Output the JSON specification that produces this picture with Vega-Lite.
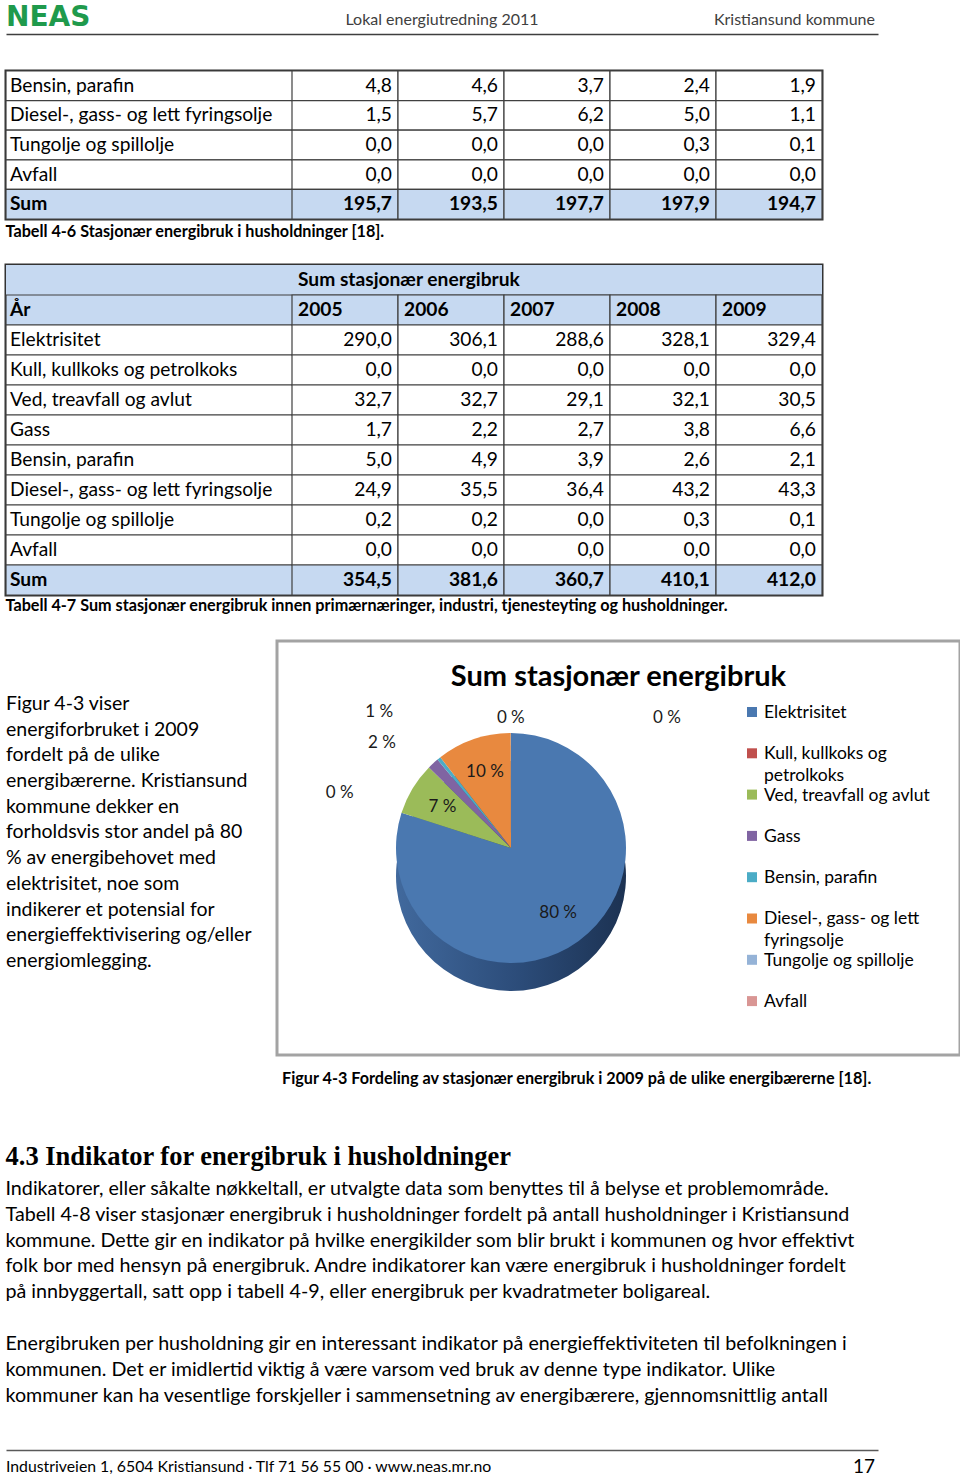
{
 "$schema": "https://vega.github.io/schema/vega-lite/v6.json",
 "background": "white",
 "padding": {"left": 3, "top": 0, "right": 0, "bottom": 0},
 "bounds": "flush",
 "spacing": 0,
 "config": {
  "view": {"stroke": null},
  "font": "Lato",
  "text": {"fill": "#000000"},
  "locale": {"number": {"decimal": ",", "thousands": " ", "grouping": [3], "currency": ["", " kr"]}}
 },
 "datasets": {
  "t46": [
   {"post": "Bensin, parafin", "aar": "2005", "verdi": 4.8}, {"post": "Bensin, parafin", "aar": "2006", "verdi": 4.6}, {"post": "Bensin, parafin", "aar": "2007", "verdi": 3.7}, {"post": "Bensin, parafin", "aar": "2008", "verdi": 2.4}, {"post": "Bensin, parafin", "aar": "2009", "verdi": 1.9},
   {"post": "Diesel-, gass- og lett fyringsolje", "aar": "2005", "verdi": 1.5}, {"post": "Diesel-, gass- og lett fyringsolje", "aar": "2006", "verdi": 5.7}, {"post": "Diesel-, gass- og lett fyringsolje", "aar": "2007", "verdi": 6.2}, {"post": "Diesel-, gass- og lett fyringsolje", "aar": "2008", "verdi": 5.0}, {"post": "Diesel-, gass- og lett fyringsolje", "aar": "2009", "verdi": 1.1},
   {"post": "Tungolje og spillolje", "aar": "2005", "verdi": 0.0}, {"post": "Tungolje og spillolje", "aar": "2006", "verdi": 0.0}, {"post": "Tungolje og spillolje", "aar": "2007", "verdi": 0.0}, {"post": "Tungolje og spillolje", "aar": "2008", "verdi": 0.3}, {"post": "Tungolje og spillolje", "aar": "2009", "verdi": 0.1},
   {"post": "Avfall", "aar": "2005", "verdi": 0.0}, {"post": "Avfall", "aar": "2006", "verdi": 0.0}, {"post": "Avfall", "aar": "2007", "verdi": 0.0}, {"post": "Avfall", "aar": "2008", "verdi": 0.0}, {"post": "Avfall", "aar": "2009", "verdi": 0.0},
   {"post": "Sum", "aar": "2005", "verdi": 195.7}, {"post": "Sum", "aar": "2006", "verdi": 193.5}, {"post": "Sum", "aar": "2007", "verdi": 197.7}, {"post": "Sum", "aar": "2008", "verdi": 197.9}, {"post": "Sum", "aar": "2009", "verdi": 194.7}
  ],
  "t47": [
   {"post": "Elektrisitet", "aar": "2005", "verdi": 290.0}, {"post": "Elektrisitet", "aar": "2006", "verdi": 306.1}, {"post": "Elektrisitet", "aar": "2007", "verdi": 288.6}, {"post": "Elektrisitet", "aar": "2008", "verdi": 328.1}, {"post": "Elektrisitet", "aar": "2009", "verdi": 329.4},
   {"post": "Kull, kullkoks og petrolkoks", "aar": "2005", "verdi": 0.0}, {"post": "Kull, kullkoks og petrolkoks", "aar": "2006", "verdi": 0.0}, {"post": "Kull, kullkoks og petrolkoks", "aar": "2007", "verdi": 0.0}, {"post": "Kull, kullkoks og petrolkoks", "aar": "2008", "verdi": 0.0}, {"post": "Kull, kullkoks og petrolkoks", "aar": "2009", "verdi": 0.0},
   {"post": "Ved, treavfall og avlut", "aar": "2005", "verdi": 32.7}, {"post": "Ved, treavfall og avlut", "aar": "2006", "verdi": 32.7}, {"post": "Ved, treavfall og avlut", "aar": "2007", "verdi": 29.1}, {"post": "Ved, treavfall og avlut", "aar": "2008", "verdi": 32.1}, {"post": "Ved, treavfall og avlut", "aar": "2009", "verdi": 30.5},
   {"post": "Gass", "aar": "2005", "verdi": 1.7}, {"post": "Gass", "aar": "2006", "verdi": 2.2}, {"post": "Gass", "aar": "2007", "verdi": 2.7}, {"post": "Gass", "aar": "2008", "verdi": 3.8}, {"post": "Gass", "aar": "2009", "verdi": 6.6},
   {"post": "Bensin, parafin", "aar": "2005", "verdi": 5.0}, {"post": "Bensin, parafin", "aar": "2006", "verdi": 4.9}, {"post": "Bensin, parafin", "aar": "2007", "verdi": 3.9}, {"post": "Bensin, parafin", "aar": "2008", "verdi": 2.6}, {"post": "Bensin, parafin", "aar": "2009", "verdi": 2.1},
   {"post": "Diesel-, gass- og lett fyringsolje", "aar": "2005", "verdi": 24.9}, {"post": "Diesel-, gass- og lett fyringsolje", "aar": "2006", "verdi": 35.5}, {"post": "Diesel-, gass- og lett fyringsolje", "aar": "2007", "verdi": 36.4}, {"post": "Diesel-, gass- og lett fyringsolje", "aar": "2008", "verdi": 43.2}, {"post": "Diesel-, gass- og lett fyringsolje", "aar": "2009", "verdi": 43.3},
   {"post": "Tungolje og spillolje", "aar": "2005", "verdi": 0.2}, {"post": "Tungolje og spillolje", "aar": "2006", "verdi": 0.2}, {"post": "Tungolje og spillolje", "aar": "2007", "verdi": 0.0}, {"post": "Tungolje og spillolje", "aar": "2008", "verdi": 0.3}, {"post": "Tungolje og spillolje", "aar": "2009", "verdi": 0.1},
   {"post": "Avfall", "aar": "2005", "verdi": 0.0}, {"post": "Avfall", "aar": "2006", "verdi": 0.0}, {"post": "Avfall", "aar": "2007", "verdi": 0.0}, {"post": "Avfall", "aar": "2008", "verdi": 0.0}, {"post": "Avfall", "aar": "2009", "verdi": 0.0},
   {"post": "Sum", "aar": "2005", "verdi": 354.5}, {"post": "Sum", "aar": "2006", "verdi": 381.6}, {"post": "Sum", "aar": "2007", "verdi": 360.7}, {"post": "Sum", "aar": "2008", "verdi": 410.1}, {"post": "Sum", "aar": "2009", "verdi": 412.0}
  ],
  "fordeling": [
   {"nr": 1, "navn": "Elektrisitet", "verdi": 329.4, "andel": "80 %", "legendtekst": "Elektrisitet"},
   {"nr": 2, "navn": "Kull, kullkoks og petrolkoks", "verdi": 0.0, "andel": "0 %", "legendtekst": "Kull, kullkoks og\npetrolkoks"},
   {"nr": 3, "navn": "Ved, treavfall og avlut", "verdi": 30.5, "andel": "7 %", "legendtekst": "Ved, treavfall og avlut"},
   {"nr": 4, "navn": "Gass", "verdi": 6.6, "andel": "2 %", "legendtekst": "Gass"},
   {"nr": 5, "navn": "Bensin, parafin", "verdi": 2.1, "andel": "1 %", "legendtekst": "Bensin, parafin"},
   {"nr": 6, "navn": "Diesel-, gass- og lett fyringsolje", "verdi": 43.3, "andel": "10 %", "legendtekst": "Diesel-, gass- og lett\nfyringsolje"},
   {"nr": 7, "navn": "Tungolje og spillolje", "verdi": 0.1, "andel": "0 %", "legendtekst": "Tungolje og spillolje"},
   {"nr": 8, "navn": "Avfall", "verdi": 0.0, "andel": "0 %", "legendtekst": "Avfall"}
  ]
 },
 "vconcat": [
  {
   "width": 872, "height": 34,
   "data": {"values": [{"pos": "v", "tekst": "NEAS"}, {"pos": "m", "tekst": "Lokal energiutredning 2011"}, {"pos": "h", "tekst": "Kristiansund kommune"}]},
   "layer": [
    {"transform": [{"filter": "datum.pos === 'v'"}],
     "mark": {"type": "text", "align": "left", "baseline": "alphabetic", "font": "DejaVu Sans", "fontSize": 28, "fontWeight": "bold", "fill": "#1f9a4c", "dy": 9},
     "encoding": {"x": {"field": "pos", "type": "nominal", "scale": {"type": "point", "domain": ["v", "m", "h"], "padding": 0}, "axis": {"orient": "bottom", "labels": false, "ticks": false, "grid": false, "title": null, "domain": true, "domainColor": "#3f3f3f", "domainWidth": 1.5}}, "text": {"field": "tekst"}}},
    {"transform": [{"filter": "datum.pos === 'm'"}],
     "mark": {"type": "text", "align": "center", "baseline": "middle", "fontSize": 16, "fill": "#404040", "dy": 3},
     "encoding": {"x": {"field": "pos", "type": "nominal", "scale": {"type": "point", "domain": ["v", "m", "h"], "padding": 0}, "axis": {"orient": "bottom", "labels": false, "ticks": false, "grid": false, "title": null, "domain": true, "domainColor": "#3f3f3f", "domainWidth": 1.5}}, "text": {"field": "tekst"}}},
    {"transform": [{"filter": "datum.pos === 'h'"}],
     "mark": {"type": "text", "align": "right", "baseline": "middle", "fontSize": 16, "fill": "#404040", "dx": -3, "dy": 3},
     "encoding": {"x": {"field": "pos", "type": "nominal", "scale": {"type": "point", "domain": ["v", "m", "h"], "padding": 0}, "axis": {"orient": "bottom", "labels": false, "ticks": false, "grid": false, "title": null, "domain": true, "domainColor": "#3f3f3f", "domainWidth": 1.5}}, "text": {"field": "tekst"}}}
   ]
  },
  {"width": 1, "height": 37, "data": {"values": [{"t": ""}]}, "mark": {"type": "text"}, "encoding": {"text": {"field": "t"}}},
  {
   "width": 816, "height": 148,
   "view": {"stroke": "#333333", "strokeWidth": 3},
   "data": {"name": "t46"},
   "resolve": {"scale": {"x": "independent"}},
   "layer": [
    {"transform": [{"filter": "datum.aar === '2005'"}],
     "mark": {"type": "rect", "stroke": "#404040", "strokeWidth": 1.2},
     "encoding": {
      "y": {"field": "post", "type": "nominal", "scale": {"type": "band", "domain": ["Bensin, parafin", "Diesel-, gass- og lett fyringsolje", "Tungolje og spillolje", "Avfall", "Sum"], "paddingInner": 0, "paddingOuter": 0}, "axis": null},
      "fill": {"condition": {"test": "datum.post === 'Sum'", "value": "#c6d9f1"}, "value": "#ffffff"}}},
    {"mark": {"type": "rect", "stroke": "#404040", "strokeWidth": 1.2},
     "encoding": {
      "x": {"field": "aar", "type": "ordinal", "scale": {"type": "band", "domain": ["_", "2005", "2006", "2007", "2008", "2009"], "paddingInner": 0, "paddingOuter": 0.849057, "align": 1}, "axis": null},
      "y": {"field": "post", "type": "nominal", "scale": {"type": "band", "domain": ["Bensin, parafin", "Diesel-, gass- og lett fyringsolje", "Tungolje og spillolje", "Avfall", "Sum"], "paddingInner": 0, "paddingOuter": 0}, "axis": null},
      "fill": {"condition": {"test": "datum.post === 'Sum'", "value": "#c6d9f1"}, "value": "#ffffff"}}},
    {"transform": [{"filter": "datum.aar === '2005' && datum.post !== 'Sum'"}],
     "mark": {"type": "text", "align": "left", "baseline": "middle", "fontSize": 19.2, "dx": 4},
     "encoding": {
      "x": {"datum": "a", "type": "nominal", "scale": {"type": "point", "domain": ["a"], "padding": 0, "align": 0}, "axis": null},
      "y": {"field": "post", "type": "nominal", "scale": {"type": "band", "domain": ["Bensin, parafin", "Diesel-, gass- og lett fyringsolje", "Tungolje og spillolje", "Avfall", "Sum"], "paddingInner": 0, "paddingOuter": 0}, "axis": null},
      "text": {"field": "post"}}},
    {"transform": [{"filter": "datum.aar === '2005' && datum.post === 'Sum'"}],
     "mark": {"type": "text", "align": "left", "baseline": "middle", "fontSize": 19.2, "fontWeight": "bold", "dx": 4},
     "encoding": {
      "x": {"datum": "a", "type": "nominal", "scale": {"type": "point", "domain": ["a"], "padding": 0, "align": 0}, "axis": null},
      "y": {"field": "post", "type": "nominal", "scale": {"type": "band", "domain": ["Bensin, parafin", "Diesel-, gass- og lett fyringsolje", "Tungolje og spillolje", "Avfall", "Sum"], "paddingInner": 0, "paddingOuter": 0}, "axis": null},
      "text": {"field": "post"}}},
    {"transform": [{"filter": "datum.post !== 'Sum'"}],
     "mark": {"type": "text", "align": "right", "baseline": "middle", "fontSize": 19.2, "dx": -6},
     "encoding": {
      "x": {"field": "aar", "type": "ordinal", "bandPosition": 1, "scale": {"type": "band", "domain": ["_", "2005", "2006", "2007", "2008", "2009"], "paddingInner": 0, "paddingOuter": 0.849057, "align": 1}, "axis": null},
      "y": {"field": "post", "type": "nominal", "scale": {"type": "band", "domain": ["Bensin, parafin", "Diesel-, gass- og lett fyringsolje", "Tungolje og spillolje", "Avfall", "Sum"], "paddingInner": 0, "paddingOuter": 0}, "axis": null},
      "text": {"field": "verdi", "type": "quantitative", "format": ".1f"}}},
    {"transform": [{"filter": "datum.post === 'Sum'"}],
     "mark": {"type": "text", "align": "right", "baseline": "middle", "fontSize": 19.2, "fontWeight": "bold", "dx": -6},
     "encoding": {
      "x": {"field": "aar", "type": "ordinal", "bandPosition": 1, "scale": {"type": "band", "domain": ["_", "2005", "2006", "2007", "2008", "2009"], "paddingInner": 0, "paddingOuter": 0.849057, "align": 1}, "axis": null},
      "y": {"field": "post", "type": "nominal", "scale": {"type": "band", "domain": ["Bensin, parafin", "Diesel-, gass- og lett fyringsolje", "Tungolje og spillolje", "Avfall", "Sum"], "paddingInner": 0, "paddingOuter": 0}, "axis": null},
      "text": {"field": "verdi", "type": "quantitative", "format": ".1f"}}}
   ]
  },
  {"width": 1, "height": 26, "data": {"values": [{"tekst": "Tabell 4-6 Stasjonær energibruk i husholdninger [18]."}]}, "mark": {"type": "text", "align": "left", "baseline": "middle", "fontSize": 16.2, "fontWeight": "bold", "dx": -1}, "encoding": {"text": {"field": "tekst"}}},
  {"width": 1, "height": 20, "data": {"values": [{"t": ""}]}, "mark": {"type": "text"}, "encoding": {"text": {"field": "t"}}},
  {
   "width": 816, "height": 330,
   "view": {"stroke": "#333333", "strokeWidth": 3},
   "data": {"name": "t47"},
   "resolve": {"scale": {"x": "independent"}},
   "layer": [
    {"transform": [{"filter": "datum.aar === '2005' && datum.post === 'Elektrisitet'"}],
     "mark": {"type": "rect", "fill": "#c6d9f1"},
     "encoding": {"y": {"datum": "tittel", "type": "nominal", "scale": {"type": "band", "domain": ["tittel", "År", "Elektrisitet", "Kull, kullkoks og petrolkoks", "Ved, treavfall og avlut", "Gass", "Bensin, parafin", "Diesel-, gass- og lett fyringsolje", "Tungolje og spillolje", "Avfall", "Sum"], "paddingInner": 0, "paddingOuter": 0}, "axis": null}}},
    {"transform": [{"filter": "datum.aar === '2005' && datum.post === 'Elektrisitet'"}],
     "mark": {"type": "rect", "fill": "#c6d9f1", "stroke": "#404040", "strokeWidth": 1.2},
     "encoding": {"y": {"datum": "År", "type": "nominal", "scale": {"type": "band", "domain": ["tittel", "År", "Elektrisitet", "Kull, kullkoks og petrolkoks", "Ved, treavfall og avlut", "Gass", "Bensin, parafin", "Diesel-, gass- og lett fyringsolje", "Tungolje og spillolje", "Avfall", "Sum"], "paddingInner": 0, "paddingOuter": 0}, "axis": null}}},
    {"transform": [{"filter": "datum.aar === '2005'"}],
     "mark": {"type": "rect", "stroke": "#404040", "strokeWidth": 1.2},
     "encoding": {
      "y": {"field": "post", "type": "nominal", "scale": {"type": "band", "domain": ["tittel", "År", "Elektrisitet", "Kull, kullkoks og petrolkoks", "Ved, treavfall og avlut", "Gass", "Bensin, parafin", "Diesel-, gass- og lett fyringsolje", "Tungolje og spillolje", "Avfall", "Sum"], "paddingInner": 0, "paddingOuter": 0}, "axis": null},
      "fill": {"condition": {"test": "datum.post === 'Sum'", "value": "#c6d9f1"}, "value": "#ffffff"}}},
    {"transform": [{"filter": "datum.post === 'Elektrisitet'"}],
     "mark": {"type": "rect", "fill": "#c6d9f1", "stroke": "#404040", "strokeWidth": 1.2},
     "encoding": {
      "x": {"field": "aar", "type": "ordinal", "scale": {"type": "band", "domain": ["_", "2005", "2006", "2007", "2008", "2009"], "paddingInner": 0, "paddingOuter": 0.849057, "align": 1}, "axis": null},
      "y": {"datum": "År", "type": "nominal", "scale": {"type": "band", "domain": ["tittel", "År", "Elektrisitet", "Kull, kullkoks og petrolkoks", "Ved, treavfall og avlut", "Gass", "Bensin, parafin", "Diesel-, gass- og lett fyringsolje", "Tungolje og spillolje", "Avfall", "Sum"], "paddingInner": 0, "paddingOuter": 0}, "axis": null}}},
    {"mark": {"type": "rect", "stroke": "#404040", "strokeWidth": 1.2},
     "encoding": {
      "x": {"field": "aar", "type": "ordinal", "scale": {"type": "band", "domain": ["_", "2005", "2006", "2007", "2008", "2009"], "paddingInner": 0, "paddingOuter": 0.849057, "align": 1}, "axis": null},
      "y": {"field": "post", "type": "nominal", "scale": {"type": "band", "domain": ["tittel", "År", "Elektrisitet", "Kull, kullkoks og petrolkoks", "Ved, treavfall og avlut", "Gass", "Bensin, parafin", "Diesel-, gass- og lett fyringsolje", "Tungolje og spillolje", "Avfall", "Sum"], "paddingInner": 0, "paddingOuter": 0}, "axis": null},
      "fill": {"condition": {"test": "datum.post === 'Sum'", "value": "#c6d9f1"}, "value": "#ffffff"}}},
    {"data": {"values": [{"tekst": "Sum stasjonær energibruk"}]},
     "mark": {"type": "text", "align": "left", "baseline": "middle", "fontSize": 19.2, "fontWeight": "bold", "dx": 6},
     "encoding": {
      "x": {"datum": "2005", "type": "ordinal", "bandPosition": 0, "scale": {"type": "band", "domain": ["_", "2005", "2006", "2007", "2008", "2009"], "paddingInner": 0, "paddingOuter": 0.849057, "align": 1}, "axis": null},
      "y": {"datum": "tittel", "type": "nominal", "scale": {"type": "band", "domain": ["tittel", "År", "Elektrisitet", "Kull, kullkoks og petrolkoks", "Ved, treavfall og avlut", "Gass", "Bensin, parafin", "Diesel-, gass- og lett fyringsolje", "Tungolje og spillolje", "Avfall", "Sum"], "paddingInner": 0, "paddingOuter": 0}, "axis": null},
      "text": {"field": "tekst"}}},
    {"data": {"values": [{"tekst": "År"}]},
     "mark": {"type": "text", "align": "left", "baseline": "middle", "fontSize": 19.2, "fontWeight": "bold", "dx": 4},
     "encoding": {
      "x": {"datum": "a", "type": "nominal", "scale": {"type": "point", "domain": ["a"], "padding": 0, "align": 0}, "axis": null},
      "y": {"datum": "År", "type": "nominal", "scale": {"type": "band", "domain": ["tittel", "År", "Elektrisitet", "Kull, kullkoks og petrolkoks", "Ved, treavfall og avlut", "Gass", "Bensin, parafin", "Diesel-, gass- og lett fyringsolje", "Tungolje og spillolje", "Avfall", "Sum"], "paddingInner": 0, "paddingOuter": 0}, "axis": null},
      "text": {"field": "tekst"}}},
    {"transform": [{"filter": "datum.aar === '2005' && datum.post !== 'Sum'"}],
     "mark": {"type": "text", "align": "left", "baseline": "middle", "fontSize": 19.2, "dx": 4},
     "encoding": {
      "x": {"datum": "a", "type": "nominal", "scale": {"type": "point", "domain": ["a"], "padding": 0, "align": 0}, "axis": null},
      "y": {"field": "post", "type": "nominal", "scale": {"type": "band", "domain": ["tittel", "År", "Elektrisitet", "Kull, kullkoks og petrolkoks", "Ved, treavfall og avlut", "Gass", "Bensin, parafin", "Diesel-, gass- og lett fyringsolje", "Tungolje og spillolje", "Avfall", "Sum"], "paddingInner": 0, "paddingOuter": 0}, "axis": null},
      "text": {"field": "post"}}},
    {"transform": [{"filter": "datum.aar === '2005' && datum.post === 'Sum'"}],
     "mark": {"type": "text", "align": "left", "baseline": "middle", "fontSize": 19.2, "fontWeight": "bold", "dx": 4},
     "encoding": {
      "x": {"datum": "a", "type": "nominal", "scale": {"type": "point", "domain": ["a"], "padding": 0, "align": 0}, "axis": null},
      "y": {"field": "post", "type": "nominal", "scale": {"type": "band", "domain": ["tittel", "År", "Elektrisitet", "Kull, kullkoks og petrolkoks", "Ved, treavfall og avlut", "Gass", "Bensin, parafin", "Diesel-, gass- og lett fyringsolje", "Tungolje og spillolje", "Avfall", "Sum"], "paddingInner": 0, "paddingOuter": 0}, "axis": null},
      "text": {"field": "post"}}},
    {"transform": [{"filter": "datum.post === 'Elektrisitet'"}],
     "mark": {"type": "text", "align": "left", "baseline": "middle", "fontSize": 19.2, "fontWeight": "bold", "dx": 6},
     "encoding": {
      "x": {"field": "aar", "type": "ordinal", "bandPosition": 0, "scale": {"type": "band", "domain": ["_", "2005", "2006", "2007", "2008", "2009"], "paddingInner": 0, "paddingOuter": 0.849057, "align": 1}, "axis": null},
      "y": {"datum": "År", "type": "nominal", "scale": {"type": "band", "domain": ["tittel", "År", "Elektrisitet", "Kull, kullkoks og petrolkoks", "Ved, treavfall og avlut", "Gass", "Bensin, parafin", "Diesel-, gass- og lett fyringsolje", "Tungolje og spillolje", "Avfall", "Sum"], "paddingInner": 0, "paddingOuter": 0}, "axis": null},
      "text": {"field": "aar"}}},
    {"transform": [{"filter": "datum.post !== 'Sum'"}],
     "mark": {"type": "text", "align": "right", "baseline": "middle", "fontSize": 19.2, "dx": -6},
     "encoding": {
      "x": {"field": "aar", "type": "ordinal", "bandPosition": 1, "scale": {"type": "band", "domain": ["_", "2005", "2006", "2007", "2008", "2009"], "paddingInner": 0, "paddingOuter": 0.849057, "align": 1}, "axis": null},
      "y": {"field": "post", "type": "nominal", "scale": {"type": "band", "domain": ["tittel", "År", "Elektrisitet", "Kull, kullkoks og petrolkoks", "Ved, treavfall og avlut", "Gass", "Bensin, parafin", "Diesel-, gass- og lett fyringsolje", "Tungolje og spillolje", "Avfall", "Sum"], "paddingInner": 0, "paddingOuter": 0}, "axis": null},
      "text": {"field": "verdi", "type": "quantitative", "format": ".1f"}}},
    {"transform": [{"filter": "datum.post === 'Sum'"}],
     "mark": {"type": "text", "align": "right", "baseline": "middle", "fontSize": 19.2, "fontWeight": "bold", "dx": -6},
     "encoding": {
      "x": {"field": "aar", "type": "ordinal", "bandPosition": 1, "scale": {"type": "band", "domain": ["_", "2005", "2006", "2007", "2008", "2009"], "paddingInner": 0, "paddingOuter": 0.849057, "align": 1}, "axis": null},
      "y": {"field": "post", "type": "nominal", "scale": {"type": "band", "domain": ["tittel", "År", "Elektrisitet", "Kull, kullkoks og petrolkoks", "Ved, treavfall og avlut", "Gass", "Bensin, parafin", "Diesel-, gass- og lett fyringsolje", "Tungolje og spillolje", "Avfall", "Sum"], "paddingInner": 0, "paddingOuter": 0}, "axis": null},
      "text": {"field": "verdi", "type": "quantitative", "format": ".1f"}}}
   ]
  },
  {"width": 1, "height": 22, "data": {"values": [{"tekst": "Tabell 4-7 Sum stasjonær energibruk innen primærnæringer, industri, tjenesteyting og husholdninger."}]}, "mark": {"type": "text", "align": "left", "baseline": "middle", "fontSize": 16.2, "fontWeight": "bold", "dx": -1}, "encoding": {"text": {"field": "tekst"}}},
  {"width": 1, "height": 24, "data": {"values": [{"t": ""}]}, "mark": {"type": "text"}, "encoding": {"text": {"field": "t"}}},
  {
   "width": 954, "height": 414,
   "data": {"name": "fordeling"},
   "resolve": {"scale": {"x": "independent", "y": "independent"}},
   "layer": [
    {"data": {"values": [{"k": "boks"}]},
     "mark": {"type": "rect", "fill": "#ffffff", "stroke": "#a3a3a3", "strokeWidth": 3},
     "encoding": {"x": {"field": "k", "type": "nominal", "scale": {"type": "band", "domain": ["boks"], "paddingInner": 0, "paddingOuter": 0.19839, "align": 1}, "axis": null}}},
    {"data": {"values": [{"tekst": "Figur 4-3 viser\nenergiforbruket i 2009\nfordelt på de ulike\nenergibærerne. Kristiansund\nkommune dekker en\nforholdsvis stor andel på 80\n% av energibehovet med\nelektrisitet, noe som\nindikerer et potensial for\nenergieffektivisering og/eller\nenergiomlegging."}]},
     "mark": {"type": "text", "align": "left", "baseline": "middle", "fontSize": 19.5, "lineHeight": 25.7, "lineBreak": "\n", "dx": 0},
     "encoding": {
      "x": {"datum": "t", "type": "nominal", "scale": {"type": "point", "domain": ["t"], "padding": 0, "align": 0}, "axis": null},
      "y": {"datum": "t", "type": "nominal", "scale": {"type": "point", "domain": ["t"], "padding": 0, "align": 0.15217}, "axis": null},
      "text": {"field": "tekst"}}},
    {"data": {"values": [{"tekst": "Sum stasjonær energibruk"}]},
     "mark": {"type": "text", "align": "center", "baseline": "alphabetic", "fontSize": 29, "fontWeight": "bold"},
     "encoding": {
      "x": {"datum": "tittel", "type": "nominal", "scale": {"type": "point", "domain": ["tittel"], "padding": 0, "align": 0.64203}, "axis": null},
      "y": {"datum": "tittel", "type": "nominal", "scale": {"type": "point", "domain": ["tittel"], "padding": 0, "align": 0.1087}, "axis": null},
      "text": {"field": "tekst"}}},
    {"mark": {"type": "arc", "outerRadius": 115, "yOffset": 28, "fill": {"gradient": "linear", "x1": 0, "x2": 1, "y1": 0, "y2": 0, "stops": [{"offset": 0, "color": "#41699d"}, {"offset": 0.55, "color": "#2b4b78"}, {"offset": 1, "color": "#1c3252"}]}},
     "encoding": {
      "x": {"datum": "pai", "type": "nominal", "scale": {"type": "point", "domain": ["pai"], "padding": 0, "align": 0.52935}, "axis": null},
      "theta": {"field": "verdi", "type": "quantitative", "stack": true},
      "order": {"field": "nr", "type": "quantitative", "sort": "ascending"}}},
    {"mark": {"type": "arc", "outerRadius": 115},
     "encoding": {
      "x": {"datum": "pai", "type": "nominal", "scale": {"type": "point", "domain": ["pai"], "padding": 0, "align": 0.52935}, "axis": null},
      "theta": {"field": "verdi", "type": "quantitative", "stack": true},
      "order": {"field": "nr", "type": "quantitative", "sort": "ascending"},
      "color": {"field": "navn", "type": "nominal", "scale": {"domain": ["Elektrisitet", "Kull, kullkoks og petrolkoks", "Ved, treavfall og avlut", "Gass", "Bensin, parafin", "Diesel-, gass- og lett fyringsolje", "Tungolje og spillolje", "Avfall"], "range": ["#4a78b0", "#c0504d", "#9bbb59", "#8064a2", "#4bacc6", "#e8893f", "#95b3d7", "#d99694"]}, "legend": null}}},
    {"mark": {"type": "text", "radius": 80, "fontSize": 17, "fill": "#1a1a1a"},
     "encoding": {
      "x": {"datum": "pai", "type": "nominal", "scale": {"type": "point", "domain": ["pai"], "padding": 0, "align": 0.52935}, "axis": null},
      "theta": {"field": "verdi", "type": "quantitative", "stack": true},
      "order": {"field": "nr", "type": "quantitative", "sort": "ascending"},
      "text": {"condition": {"test": "datum.verdi > 20", "field": "andel", "type": "nominal"}, "value": ""}}},
    {"transform": [{"stack": "verdi", "groupby": [], "sort": [{"field": "nr", "order": "ascending"}], "as": ["v0", "v1"]}, {"filter": "datum.nr === 2"}],
     "mark": {"type": "text", "radius": 180, "fontSize": 17, "fill": "#1a1a1a"},
     "encoding": {
      "x": {"datum": "pai", "type": "nominal", "scale": {"type": "point", "domain": ["pai"], "padding": 0, "align": 0.52935}, "axis": null},
      "theta": {"field": "v1", "type": "quantitative"}, "text": {"field": "andel"}}},
    {"transform": [{"stack": "verdi", "groupby": [], "sort": [{"field": "nr", "order": "ascending"}], "as": ["v0", "v1"]}, {"filter": "datum.nr === 4"}],
     "mark": {"type": "text", "radius": 150, "fontSize": 17, "fill": "#1a1a1a", "dx": -22},
     "encoding": {
      "x": {"datum": "pai", "type": "nominal", "scale": {"type": "point", "domain": ["pai"], "padding": 0, "align": 0.52935}, "axis": null},
      "theta": {"field": "v0", "type": "quantitative"}, "text": {"field": "andel"}}},
    {"transform": [{"stack": "verdi", "groupby": [], "sort": [{"field": "nr", "order": "ascending"}], "as": ["v0", "v1"]}, {"filter": "datum.nr === 5"}],
     "mark": {"type": "text", "radius": 172, "fontSize": 17, "fill": "#1a1a1a", "dx": -26},
     "encoding": {
      "x": {"datum": "pai", "type": "nominal", "scale": {"type": "point", "domain": ["pai"], "padding": 0, "align": 0.52935}, "axis": null},
      "theta": {"field": "v1", "type": "quantitative"}, "text": {"field": "andel"}}},
    {"transform": [{"stack": "verdi", "groupby": [], "sort": [{"field": "nr", "order": "ascending"}], "as": ["v0", "v1"]}, {"filter": "datum.nr === 7"}],
     "mark": {"type": "text", "radius": 130, "fontSize": 17, "fill": "#1a1a1a"},
     "encoding": {
      "x": {"datum": "pai", "type": "nominal", "scale": {"type": "point", "domain": ["pai"], "padding": 0, "align": 0.52935}, "axis": null},
      "theta": {"field": "v0", "type": "quantitative"}, "text": {"field": "andel"}}},
    {"transform": [{"stack": "verdi", "groupby": [], "sort": [{"field": "nr", "order": "ascending"}], "as": ["v0", "v1"]}, {"filter": "datum.nr === 8"}],
     "mark": {"type": "text", "radius": 130, "fontSize": 17, "fill": "#1a1a1a", "dx": 156},
     "encoding": {
      "x": {"datum": "pai", "type": "nominal", "scale": {"type": "point", "domain": ["pai"], "padding": 0, "align": 0.52935}, "axis": null},
      "theta": {"field": "v1", "type": "quantitative"}, "text": {"field": "andel"}}},
    {"mark": {"type": "point", "shape": "square", "size": 100, "filled": true, "opacity": 1, "strokeWidth": 0},
     "encoding": {
      "x": {"datum": "s", "type": "nominal", "scale": {"type": "point", "domain": ["s"], "padding": 0, "align": 0.78197}, "axis": null},
      "y": {"field": "navn", "type": "nominal", "scale": {"type": "point", "domain": ["_a", "Elektrisitet", "Kull, kullkoks og petrolkoks", "Ved, treavfall og avlut", "Gass", "Bensin, parafin", "Diesel-, gass- og lett fyringsolje", "Tungolje og spillolje", "Avfall", "_b"], "padding": 0.5121, "align": 0.7021}, "axis": null},
      "color": {"field": "navn", "type": "nominal", "scale": {"domain": ["Elektrisitet", "Kull, kullkoks og petrolkoks", "Ved, treavfall og avlut", "Gass", "Bensin, parafin", "Diesel-, gass- og lett fyringsolje", "Tungolje og spillolje", "Avfall"], "range": ["#4a78b0", "#c0504d", "#9bbb59", "#8064a2", "#4bacc6", "#e8893f", "#95b3d7", "#d99694"]}, "legend": null}}},
    {"mark": {"type": "text", "align": "left", "baseline": "alphabetic", "fontSize": 17.5, "lineHeight": 21.5, "lineBreak": "\n", "dy": 6},
     "encoding": {
      "x": {"datum": "t", "type": "nominal", "scale": {"type": "point", "domain": ["t"], "padding": 0, "align": 0.79455}, "axis": null},
      "y": {"field": "navn", "type": "nominal", "scale": {"type": "point", "domain": ["_a", "Elektrisitet", "Kull, kullkoks og petrolkoks", "Ved, treavfall og avlut", "Gass", "Bensin, parafin", "Diesel-, gass- og lett fyringsolje", "Tungolje og spillolje", "Avfall", "_b"], "padding": 0.5121, "align": 0.7021}, "axis": null},
      "text": {"field": "legendtekst"}}}
   ]
  },
  {"width": 954, "height": 48,
   "data": {"values": [{"tekst": "Figur 4-3 Fordeling av stasjonær energibruk i 2009 på de ulike energibærerne [18]."}]},
   "mark": {"type": "text", "align": "left", "baseline": "middle", "fontSize": 16.2, "fontWeight": "bold"},
   "encoding": {
    "x": {"datum": "t", "type": "nominal", "scale": {"type": "point", "domain": ["t"], "padding": 0, "align": 0.2893}, "axis": null},
    "text": {"field": "tekst"}}},
  {"width": 1, "height": 38, "data": {"values": [{"t": ""}]}, "mark": {"type": "text"}, "encoding": {"text": {"field": "t"}}},
  {"width": 1, "height": 32, "data": {"values": [{"tekst": "4.3 Indikator for energibruk i husholdninger"}]}, "mark": {"type": "text", "align": "left", "baseline": "middle", "font": "Liberation Serif", "fontWeight": "bold", "fontSize": 26.5, "dx": -1}, "encoding": {"text": {"field": "tekst"}}},
  {"width": 1, "height": 32,
   "data": {"values": [{"tekst": "Indikatorer, eller såkalte nøkkeltall, er utvalgte data som benyttes til å belyse et problemområde.\nTabell 4-8 viser stasjonær energibruk i husholdninger fordelt på antall husholdninger i Kristiansund\nkommune. Dette gir en indikator på hvilke energikilder som blir brukt i kommunen og hvor effektivt\nfolk bor med hensyn på energibruk. Andre indikatorer kan være energibruk i husholdninger fordelt\npå innbyggertall, satt opp i tabell 4-9, eller energibruk per kvadratmeter boligareal."}]},
   "mark": {"type": "text", "align": "left", "baseline": "middle", "fontSize": 19.7, "lineHeight": 25.75, "lineBreak": "\n", "dx": -1},
   "encoding": {"text": {"field": "tekst"}}},
  {"width": 1, "height": 123, "data": {"values": [{"t": ""}]}, "mark": {"type": "text"}, "encoding": {"text": {"field": "t"}}},
  {"width": 1, "height": 32,
   "data": {"values": [{"tekst": "Energibruken per husholdning gir en interessant indikator på energieffektiviteten til befolkningen i\nkommunen. Det er imidlertid viktig å være varsom ved bruk av denne type indikator. Ulike\nkommuner kan ha vesentlige forskjeller i sammensetning av energibærere, gjennomsnittlig antall"}]},
   "mark": {"type": "text", "align": "left", "baseline": "middle", "fontSize": 19.7, "lineHeight": 25.75, "lineBreak": "\n", "dx": -1},
   "encoding": {"text": {"field": "tekst"}}},
  {"width": 1, "height": 90, "data": {"values": [{"t": ""}]}, "mark": {"type": "text"}, "encoding": {"text": {"field": "t"}}},
  {
   "width": 872, "height": 28,
   "data": {"values": [{"pos": "v", "tekst": "Industriveien 1, 6504 Kristiansund · Tlf 71 56 55 00 · www.neas.mr.no"}, {"pos": "h", "tekst": "17"}]},
   "layer": [
    {"transform": [{"filter": "datum.pos === 'v'"}],
     "mark": {"type": "text", "align": "left", "baseline": "middle", "fontSize": 15.8, "dx": 0, "dy": 3},
     "encoding": {"x": {"field": "pos", "type": "nominal", "scale": {"type": "point", "domain": ["v", "h"], "padding": 0}, "axis": {"orient": "top", "labels": false, "ticks": false, "grid": false, "title": null, "domain": true, "domainColor": "#595959", "domainWidth": 1.5}}, "text": {"field": "tekst"}}},
    {"transform": [{"filter": "datum.pos === 'h'"}],
     "mark": {"type": "text", "align": "right", "baseline": "middle", "fontSize": 19, "dx": -3, "dy": 3},
     "encoding": {"x": {"field": "pos", "type": "nominal", "scale": {"type": "point", "domain": ["v", "h"], "padding": 0}, "axis": {"orient": "top", "labels": false, "ticks": false, "grid": false, "title": null, "domain": true, "domainColor": "#595959", "domainWidth": 1.5}}, "text": {"field": "tekst"}}}
   ]
  }
 ]
}
